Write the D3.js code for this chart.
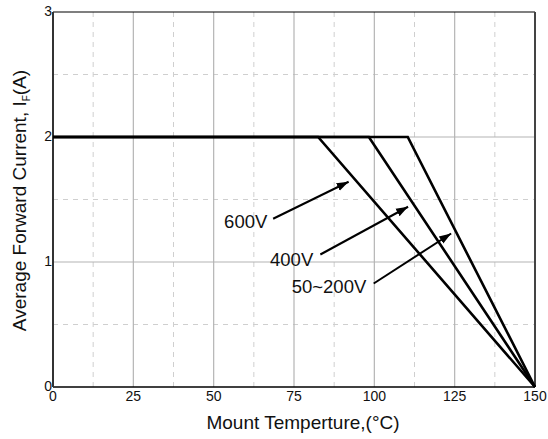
<!DOCTYPE html>
<html>
<head>
<meta charset="utf-8">
<script src="https://cdn.jsdelivr.net/npm/d3@7"></script>
<style>
  body { margin: 0; background: #fff; }
  svg { display: block; font-family: 'Liberation Sans', Arial, sans-serif; }
</style>
</head>
<body>
<svg id="chart" width="548" height="439"></svg>
<script>
const width = 548
const height = 439
const margin = { top: 12, right: 13, bottom: 52, left: 53 }

/* data */
const xTicks = [0, 25, 50, 75, 100, 125, 150]
const yTicks = [0, 1, 2, 3]
const xMinor = [12.5, 37.5, 62.5, 87.5, 112.5, 137.5]
const yMinor = [0.5, 1.5, 2.5]

const curve600 = [[0, 2], [82.5, 2], [150, 0]]
const curve400 = [[0, 2], [98.3, 2], [150, 0]]
const curve200 = [[0, 2], [110.4, 2], [150, 0]]

const labels = ['600V', '400V', '50~200V']
const labelPos = [[66.7, 1.276], [81.0, 0.966], [97.5, 0.756]]
const arrowFrom = [[68.5, 1.346], [83.2, 1.06], [99.8, 0.828]]
const arrowTo = [[92.0, 1.642], [110.5, 1.442], [123.9, 1.228]]

const svg = d3.select('#chart')

const xScale = d3.scaleLinear().domain([0, 150]).range([margin.left, width - margin.right])
const yScale = d3.scaleLinear().domain([0, 3]).range([height - margin.bottom, margin.top])

svg.append('defs').append('marker')
  .attr('id', 'arrow')
  .attr('viewBox', '0 0 10 10')
  .attr('refX', 10).attr('refY', 5)
  .attr('markerWidth', 6).attr('markerHeight', 6)
  .attr('markerUnits', 'strokeWidth')
  .attr('orient', 'auto')
  .append('path').attr('d', 'M0,1.5 L10,5 L0,8.5 Z').attr('fill', '#000')

/* grid */
svg.selectAll('.minor-x').data(xMinor).enter().append('line')
  .attr('x1', d => xScale(d)).attr('x2', d => xScale(d))
  .attr('y1', yScale(0)).attr('y2', yScale(3))
  .attr('stroke', '#cfcfcf').attr('stroke-dasharray', '5,5')
svg.selectAll('.minor-y').data(yMinor).enter().append('line')
  .attr('x1', xScale(0)).attr('x2', xScale(150))
  .attr('y1', d => yScale(d)).attr('y2', d => yScale(d))
  .attr('stroke', '#cfcfcf').attr('stroke-dasharray', '5,5')
svg.selectAll('.major-x').data(xTicks.slice(1, -1)).enter().append('line')
  .attr('x1', d => xScale(d)).attr('x2', d => xScale(d))
  .attr('y1', yScale(0)).attr('y2', yScale(3))
  .attr('stroke', '#b4b4b4').attr('stroke-width', 1.2)
svg.selectAll('.major-y').data(yTicks.slice(1, -1)).enter().append('line')
  .attr('x1', xScale(0)).attr('x2', xScale(150))
  .attr('y1', d => yScale(d)).attr('y2', d => yScale(d))
  .attr('stroke', '#b4b4b4').attr('stroke-width', 1.2)

/* frame */
svg.append('line').attr('x1', xScale(0)).attr('x2', xScale(150))
  .attr('y1', yScale(3)).attr('y2', yScale(3)).attr('stroke', '#000').attr('stroke-width', 1.2)
svg.append('line').attr('x1', xScale(0)).attr('x2', xScale(150))
  .attr('y1', yScale(0)).attr('y2', yScale(0)).attr('stroke', '#000').attr('stroke-width', 1.6)
svg.append('line').attr('x1', xScale(0)).attr('x2', xScale(0))
  .attr('y1', yScale(0)).attr('y2', yScale(3)).attr('stroke', '#333').attr('stroke-width', 2)
svg.append('line').attr('x1', xScale(150)).attr('x2', xScale(150))
  .attr('y1', yScale(0)).attr('y2', yScale(3)).attr('stroke', '#444').attr('stroke-width', 2)

/* curves */
const line = d3.line().x(d => xScale(d[0])).y(d => yScale(d[1]))
;[curve600, curve400, curve200].forEach(c => {
  svg.append('path').datum(c)
    .attr('fill', 'none').attr('stroke', '#000').attr('stroke-width', 2.6)
    .attr('stroke-linejoin', 'miter')
    .attr('d', line)
})

/* annotations */
labels.forEach((t, i) => {
  svg.append('line')
    .attr('x1', xScale(arrowFrom[i][0])).attr('y1', yScale(arrowFrom[i][1]))
    .attr('x2', xScale(arrowTo[i][0])).attr('y2', yScale(arrowTo[i][1]))
    .attr('stroke', '#000').attr('stroke-width', 2)
    .attr('marker-end', 'url(#arrow)')
  svg.append('text')
    .attr('x', xScale(labelPos[i][0])).attr('y', yScale(labelPos[i][1]))
    .attr('text-anchor', 'end').attr('font-size', 18.5).attr('fill', '#111')
    .text(t)
})

/* tick labels */
svg.selectAll('.xt').data(xTicks).enter().append('text')
  .attr('x', d => xScale(d)).attr('y', yScale(0) + 14)
  .attr('text-anchor', 'middle').attr('font-size', 14).attr('fill', '#111')
  .text(d => d)
svg.selectAll('.yt').data(yTicks).enter().append('text')
  .attr('x', xScale(0) - 1).attr('y', d => yScale(d) + 4)
  .attr('text-anchor', 'end').attr('font-size', 14).attr('fill', '#111')
  .text(d => d)

/* axis titles */
svg.append('text')
  .attr('x', 303).attr('y', 429)
  .attr('text-anchor', 'middle').attr('font-size', 19).attr('fill', '#111')
  .text('Mount Temperture,(°C)')

const yt = svg.append('text')
  .attr('transform', `translate(26, ${(yScale(0) + yScale(3)) / 2 + 1}) rotate(-90)`)
  .attr('text-anchor', 'middle').attr('font-size', 19).attr('fill', '#111')
yt.append('tspan').text('Average Forward Current,  I')
yt.append('tspan').attr('font-size', 10).attr('dy', 4).text('F')
yt.append('tspan').attr('dy', -4).text('(A)')
</script>
</body>
</html>
